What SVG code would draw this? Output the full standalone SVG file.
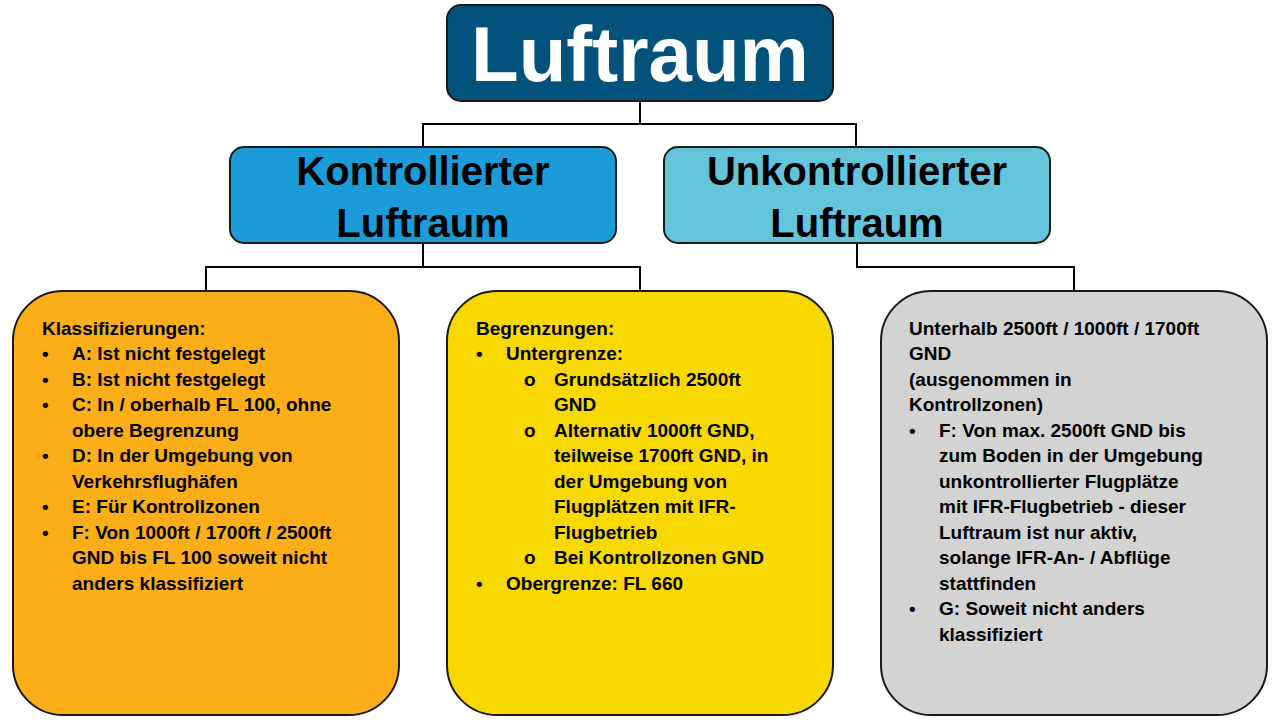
<svg xmlns="http://www.w3.org/2000/svg" width="1280" height="720" viewBox="0 0 1280 720">
<style>
.b{stroke:#1a1a1a;stroke-width:2}
.t{font-family:"Liberation Sans",Arial,sans-serif;font-weight:bold;font-size:19px;fill:#000}
.h{font-family:"Liberation Sans",Arial,sans-serif;font-weight:bold;font-size:40px;fill:#000;text-anchor:middle}
.c{fill:none;stroke:#000;stroke-width:2}
</style>
<rect width="1280" height="720" fill="#fff"/>
<g id="connectors">
<path class="c" d="M640 101V124H423V147M640 124H856V147"/>
<path class="c" d="M423 243V267H206V291M423 267H640V291"/>
<path class="c" d="M857 243V267H1074V291"/>
</g>
<g id="luftraum"><rect class="b" x="447" y="5" width="386" height="96" rx="14" fill="#03527B"/>
<text x="640" y="81" font-family="Liberation Sans,Arial,sans-serif" font-weight="bold" font-size="78" fill="#fff" text-anchor="middle">Luftraum</text></g>
<g id="kontrolliert"><rect class="b" x="230" y="147" width="386" height="96" rx="14" fill="#1B9BD7"/>
<text class="h" x="423" y="185">Kontrollierter</text><text class="h" x="423" y="237">Luftraum</text></g>
<g id="unkontrolliert"><rect class="b" x="664" y="147" width="386" height="96" rx="14" fill="#64C4DB"/>
<text class="h" x="857" y="185">Unkontrollierter</text><text class="h" x="857" y="237">Luftraum</text></g>
<g id="klassen"><rect class="b" x="13" y="291" width="386" height="424" rx="50" fill="#FBAE17"/>
<g class="t">
<text x="42" y="335">Klassifizierungen:</text>
<text x="42" y="360">•</text><text x="72" y="360">A: Ist nicht festgelegt</text>
<text x="42" y="386">•</text><text x="72" y="386">B: Ist nicht festgelegt</text>
<text x="42" y="411">•</text><text x="72" y="411">C: In / oberhalb FL 100, ohne</text>
<text x="72" y="437">obere Begrenzung</text>
<text x="42" y="462">•</text><text x="72" y="462">D: In der Umgebung von</text>
<text x="72" y="488">Verkehrsflughäfen</text>
<text x="42" y="513">•</text><text x="72" y="513">E: Für Kontrollzonen</text>
<text x="42" y="539">•</text><text x="72" y="539">F: Von 1000ft / 1700ft / 2500ft</text>
<text x="72" y="564">GND bis FL 100 soweit nicht</text>
<text x="72" y="590">anders klassifiziert</text>
</g></g>
<g id="grenzen"><rect class="b" x="447" y="291" width="386" height="424" rx="50" fill="#F7D900"/>
<g class="t">
<text x="476" y="335">Begrenzungen:</text>
<text x="476" y="360">•</text><text x="506" y="360">Untergrenze:</text>
<text x="524" y="386">o</text><text x="554" y="386">Grundsätzlich 2500ft</text>
<text x="554" y="411">GND</text>
<text x="524" y="437">o</text><text x="554" y="437">Alternativ 1000ft GND,</text>
<text x="554" y="462">teilweise 1700ft GND, in</text>
<text x="554" y="488">der Umgebung von</text>
<text x="554" y="513">Flugplätzen mit IFR-</text>
<text x="554" y="539">Flugbetrieb</text>
<text x="524" y="564">o</text><text x="554" y="564">Bei Kontrollzonen GND</text>
<text x="476" y="590">•</text><text x="506" y="590">Obergrenze: FL 660</text>
</g></g>
<g id="unterhalb"><rect class="b" x="881" y="291" width="386" height="424" rx="50" fill="#D3D3D3"/>
<g class="t">
<text x="909" y="335">Unterhalb 2500ft / 1000ft / 1700ft</text>
<text x="909" y="360">GND</text>
<text x="909" y="386">(ausgenommen in</text>
<text x="909" y="411">Kontrollzonen)</text>
<text x="909" y="437">•</text><text x="939" y="437">F: Von max. 2500ft GND bis</text>
<text x="939" y="462">zum Boden in der Umgebung</text>
<text x="939" y="488">unkontrollierter Flugplätze</text>
<text x="939" y="513">mit IFR-Flugbetrieb  - dieser</text>
<text x="939" y="539">Luftraum ist nur aktiv,</text>
<text x="939" y="564">solange IFR-An- / Abflüge</text>
<text x="939" y="590">stattfinden</text>
<text x="909" y="615">•</text><text x="939" y="615">G: Soweit nicht anders</text>
<text x="939" y="641">klassifiziert</text>
</g></g>
</svg>
